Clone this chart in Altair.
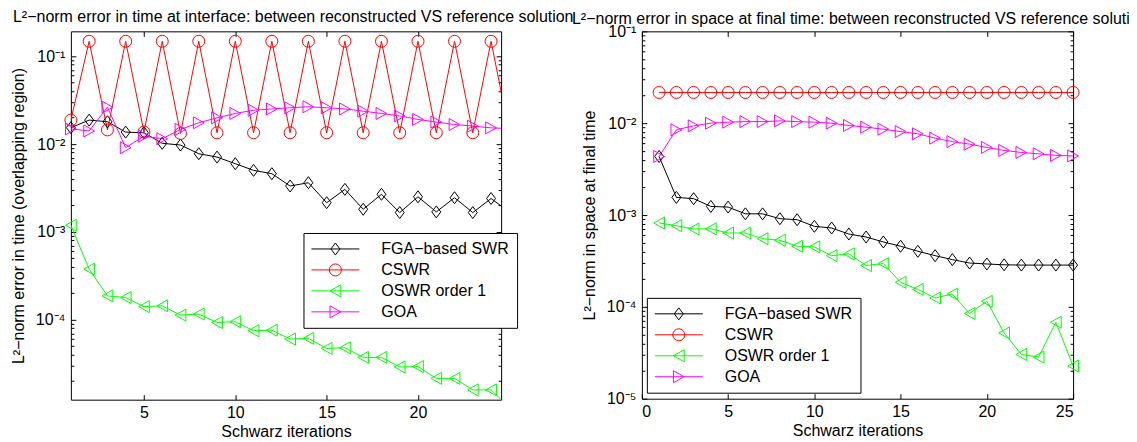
import altair as alt
import pandas as pd

# ---------------- data ----------------
iterations = list(range(1, 26))
series_names = ["FGA−based SWR", "CSWR", "OSWR order 1", "GOA"]
marker_keys = ["m1", "m2", "m3", "m4"]
series_colors = ["#000000", "#ff0000", "#00ff00", "#ff00ff"]
series_shapes = [
    "M0,-1L0.75,0L0,1L-0.75,0Z",      # diamond
    "circle",                          # circle
    "M-0.9,0L0.9,-1L0.9,1Z",          # triangle pointing left
    "M0.9,0L-0.9,-1L-0.9,1Z",         # triangle pointing right
]

left_fga = [0.01535, 0.01875, 0.01795, 0.01368, 0.01345, 0.0102, 0.00975, 0.00776,
            0.00711, 0.00598, 0.00502, 0.0046, 0.00333, 0.00363, 0.00215, 0.00305,
            0.00181, 0.00268, 0.00166, 0.00251, 0.00169, 0.00245, 0.00166, 0.0024, 0.00168]
left_cswr = [0.01875, 0.148, 0.0145, 0.148, 0.0137, 0.148, 0.0132, 0.148,
             0.01345, 0.148, 0.01345, 0.148, 0.01345, 0.148, 0.01345, 0.148,
             0.01345, 0.148, 0.01345, 0.148, 0.01345, 0.148, 0.01345, 0.148, 0.01345]
left_oswr = [1.19e-3, 3.77e-4, 1.87e-4, 1.79e-4, 1.41e-4, 1.44e-4, 1.13e-4, 1.16e-4,
             9.3e-5, 9.5e-5, 7.5e-5, 7.6e-5, 6.03e-5, 6.14e-5, 4.72e-5, 4.8e-5,
             3.73e-5, 3.73e-5, 2.9e-5, 2.93e-5, 2.15e-5, 2.15e-5, 1.59e-5, 1.59e-5, 1.0e-5]
left_goa = [0.0149, 0.0141, 0.0263, 0.0091, 0.0123, 0.0115, 0.0147, 0.01746,
            0.0199, 0.0223, 0.0243, 0.0251, 0.0259, 0.0266, 0.0259, 0.0251,
            0.0237, 0.0223, 0.0209, 0.0191, 0.0178, 0.0167, 0.016, 0.0153, 0.015]

right_fga = [0.00434, 0.001556, 0.001506, 0.00124, 0.00122, 0.00103, 0.00103, 9.12e-4,
             8.89e-4, 7.53e-4, 7.22e-4, 6.21e-4, 5.76e-4, 5.09e-4, 4.57e-4, 4.03e-4,
             3.61e-4, 3.27e-4, 3.0e-4, 2.93e-4, 2.87e-4, 2.85e-4, 2.85e-4, 2.85e-4, 2.85e-4]
right_cswr = [0.0216, 0.0216, 0.0216, 0.0216, 0.0216, 0.0216, 0.0216, 0.0216,
              0.0216, 0.0216, 0.0216, 0.0216, 0.0216, 0.0216, 0.0216, 0.0216,
              0.0216, 0.0216, 0.0216, 0.0216, 0.0216, 0.0216, 0.0216, 0.0216, 0.0216]
right_oswr = [8.19e-4, 7.66e-4, 7.05e-4, 7.07e-4, 6.37e-4, 6.37e-4, 5.53e-4, 5.31e-4,
              4.57e-4, 4.5e-4, 3.61e-4, 3.77e-4, 2.82e-4, 2.96e-4, 1.85e-4, 1.55e-4,
              1.25e-4, 1.38e-4, 8.47e-5, 1.15e-4, 5.2e-5, 3.03e-5, 2.84e-5, 6.8e-5, 2.27e-5]
right_goa = [0.00434, 0.00847, 0.00935, 0.0100, 0.01026, 0.0104, 0.0104, 0.0106,
             0.0104, 0.01025, 0.0100, 0.00944, 0.00905, 0.0086, 0.0081, 0.00766,
             0.00687, 0.0063, 0.00591, 0.00544, 0.00505, 0.0048, 0.00464, 0.00446, 0.0044]

left_title = "L²−norm error in time at interface: between reconstructed VS reference solution"
right_title = "L²−norm error in space at final time: between reconstructed VS reference solution"
left_ytitle = "L²−norm error in time (overlapping region)"
right_ytitle = "L²−norm in space at final time"
x_title = "Schwarz iterations"

left_xticks = [5, 10, 15, 20]
right_xticks = [0, 5, 10, 15, 20, 25]
left_ymajor = [1e-1, 1e-2, 1e-3, 1e-4]
right_ymajor = [1e-1, 1e-2, 1e-3, 1e-4, 1e-5]

FONT = "Liberation Sans"
FS = 16


def long_df(cols):
    rows = []
    for name, key, vals in zip(series_names, marker_keys, cols):
        for x, v in zip(iterations, vals):
            rows.append({"x": x, "y": v, "series": name, "marker": key})
    return pd.DataFrame(rows)


def minor_ticks(lo, hi):
    out = []
    for e in range(-6, 1):
        for k in range(2, 10):
            v = k * 10.0 ** e
            if lo <= v <= hi:
                out.append(v)
    return out


LABEL_EXPR = ("'10⁻' + substring('⁰¹²³⁴⁵⁶⁷⁸⁹', -round(log(datum.value)/LN10), "
              "-round(log(datum.value)/LN10)+1)")
MARKER_LABEL_EXPR = ("{'m1': 'FGA−based SWR', 'm2': 'CSWR', 'm3': 'OSWR order 1', "
                     "'m4': 'GOA'}[datum.value]")


def panel(df, xdom, ydom, xticks, ymajor, title, title_dx, title_off, ytitle,
          leg_x, leg_y, w, h):
    xs = alt.Scale(domain=xdom, nice=False, zero=False)
    ys = alt.Scale(type="log", domain=ydom, nice=False)
    ax = dict(grid=False, domain=False, tickColor="black", tickWidth=1)
    base = alt.Chart(df)

    common_leg = dict(orient="none", legendX=leg_x, legendY=leg_y, title=None,
                      symbolSize=144, symbolStrokeWidth=1, symbolOffset=16,
                      labelFont=FONT, labelFontSize=FS, labelOffset=38,
                      padding=8, rowPadding=5, labelLimit=400)
    legend_marker = alt.Legend(labelOpacity=0, labelExpr=MARKER_LABEL_EXPR, **common_leg)
    legend_line = alt.Legend(symbolType="M-4,0H4", labelColor="black",
                             strokeColor="black", fillColor="white", **common_leg)

    lines = base.mark_line(clip=True, strokeWidth=1).encode(
        x=alt.X("x:Q", scale=xs, axis=alt.Axis(
            orient="bottom", values=xticks, tickSize=5, offset=-5, labelPadding=5,
            format="d", title=x_title, titlePadding=3, **ax)),
        y=alt.Y("y:Q", scale=ys, axis=alt.Axis(
            orient="left", values=ymajor, tickSize=5, offset=-5, labelPadding=6,
            labelExpr=LABEL_EXPR, title=ytitle, titlePadding=9, **ax)),
        color=alt.Color("series:N", scale=alt.Scale(domain=series_names, range=series_colors),
                        legend=legend_line),
    )
    points = base.transform_filter(alt.datum.x <= xdom[1]).mark_point(
        filled=False, size=144, strokeWidth=1, opacity=1).encode(
        x=alt.X("x:Q", scale=xs, axis=alt.Axis(
            orient="top", values=xticks, tickSize=5, offset=-5, labels=False, title=None, **ax)),
        y=alt.Y("y:Q", scale=ys, axis=alt.Axis(
            orient="right", values=ymajor, tickSize=5, offset=-5, labels=False, title=None, **ax)),
        stroke=alt.Stroke("marker:N", scale=alt.Scale(domain=marker_keys, range=series_colors),
                          legend=legend_marker),
        shape=alt.Shape("marker:N", scale=alt.Scale(domain=marker_keys, range=series_shapes),
                        legend=legend_marker),
    )
    yminor = minor_ticks(ydom[0], ydom[1])
    minor_l = base.mark_point(opacity=0, size=1).encode(
        x=alt.X("x:Q", scale=xs, axis=None),
        y=alt.Y("y:Q", scale=ys, axis=alt.Axis(
            orient="left", values=yminor, tickSize=3, offset=-3, labels=False, title=None, **ax)),
    )
    minor_r = base.mark_point(opacity=0, size=1).encode(
        x=alt.X("x:Q", scale=xs, axis=None),
        y=alt.Y("y:Q", scale=ys, axis=alt.Axis(
            orient="right", values=yminor, tickSize=3, offset=-3, labels=False, title=None, **ax)),
    )
    return alt.layer(lines, points, minor_l, minor_r).resolve_axis(
        x="independent", y="independent").properties(
        width=w, height=h,
        title=alt.TitleParams(text=title, anchor="start", frame="group", dx=title_dx,
                              offset=title_off, font=FONT, fontSize=FS, fontWeight="normal",
                              color="black"))


left_df = long_df([left_fga, left_cswr, left_oswr, left_goa])
right_df = long_df([right_fga, right_cswr, right_oswr, right_goa])

left = panel(left_df, [1, 24.55], [1.23e-5, 0.192], left_xticks, left_ymajor,
             left_title, -58, 6, left_ytitle, 233, 202, 431, 369)
right = panel(right_df, [0, 25], [1e-5, 1e-1], right_xticks, right_ymajor,
              right_title, -70, -4, right_ytitle, 5, 267, 432, 368)

chart = alt.hconcat(left, right, spacing=141, bounds="flush").resolve_scale(
    color="independent", stroke="independent", shape="independent"
).properties(
    padding={"left": 1, "top": 0, "right": -20, "bottom": 0}
).configure_view(
    stroke="black", strokeWidth=1
).configure_axis(
    labelFont=FONT, titleFont=FONT, labelFontSize=FS, titleFontSize=FS,
    labelColor="black", titleColor="black", titleFontWeight="normal"
)

chart.save("out.html", embed_options={"renderer": "svg", "actions": False})
